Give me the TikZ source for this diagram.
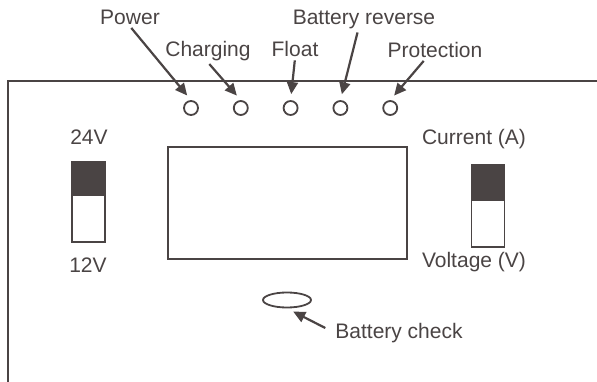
\documentclass[tikz,border=0pt]{standalone}
\usepackage{fontspec}
\setmainfont{Liberation Sans}
\usepackage{tikz}
\usetikzlibrary{arrows.meta,positioning,calc,shapes.geometric}
\definecolor{ink}{HTML}{4A4444}
\definecolor{paper}{HTML}{FFFFFF}

\begin{document}
\begin{tikzpicture}[x=1pt,y=-1pt,>={Triangle[length=12pt,width=11pt]},
            node distance=34pt,
            lamp/.style={circle,draw=ink,line width=1.8pt,minimum size=14pt,inner sep=0pt},
            tag/.style={anchor=base,inner sep=1pt,text=ink,font=\fontsize{21}{25}\selectfont},
            pointer/.style={->,draw=ink,line width=2.2pt,shorten <=2pt,shorten >=6pt},
            knob/.style={draw=ink,fill=ink,line width=1.8pt,minimum width=33pt,inner sep=0pt,outer sep=0pt},
            slot/.style={draw=ink,fill=paper,line width=1.8pt,minimum width=33pt,minimum height=47pt,inner sep=0pt,outer sep=0pt}]
          \fill[paper] (0,0) rectangle (597,382);
          \useasboundingbox (0,0) rectangle (597,382);
          % panel outline
          \coordinate (fbl) at (8,382);
          \coordinate (ftr) at (597,81);
          \draw[ink,line width=2pt] (fbl) |- (ftr);
          % lamps
          \node[lamp] (led1) at (191,108) {};
          \node[lamp,right=of led1] (led2) {};
          \node[lamp,right=of led2] (led3) {};
          \node[lamp,right=of led3] (led4) {};
          \node[lamp,right=of led4] (led5) {};
          \node[tag] (pow) at (130,25) {Power};
          \node[tag] (chg) at (208,57) {Charging};
          \node[tag] (flt) at (295,57) {Float};
          \node[tag] (brev) at (364,25) {Battery reverse};
          \node[tag] (prot) at (435,58) {Protection};
          \draw[pointer] (pow.south) -- (led1.north);
          \draw[pointer] (chg.south) -- (led2.north);
          \draw[pointer] (flt.south) -- (led3.north);
          \draw[pointer] ([xshift=-6pt]brev.south) -- (led4.north);
          \draw[pointer] ([xshift=-10pt]prot.south) -- (led5.north);
          % display
          \node[draw=ink,line width=2pt,minimum width=239pt,minimum height=112pt] (disp) at (287.5,203) {};
          % voltage switch
          \node[knob,minimum height=33pt] (vsel) at (88.5,178.5) {};
          \node[slot,below=0pt of vsel] (vslot) {};
          \node[tag] (v24) at (89,145) {24V};
          \node[tag] (v12) at (88,272) {12V};
          % meter switch
          \node[knob,minimum height=35pt] (msel) at (488,182.5) {};
          \node[slot,below=0pt of msel] (mslot) {};
          \node[tag] (cur) at (474,145) {Current (A)};
          \node[tag] (vlt) at (474,267) {Voltage (V)};
          % battery check
          \node[ellipse,draw=ink,line width=1.8pt,minimum width=48pt,minimum height=15pt,inner sep=0pt] (bat) at (287,300) {};
          \node[tag] (bchk) at (399,338) {Battery check};
          \draw[pointer,shorten <=10pt,shorten >=7pt] (bchk.west) -- (bat.south);
        \end{tikzpicture}
\end{document}
